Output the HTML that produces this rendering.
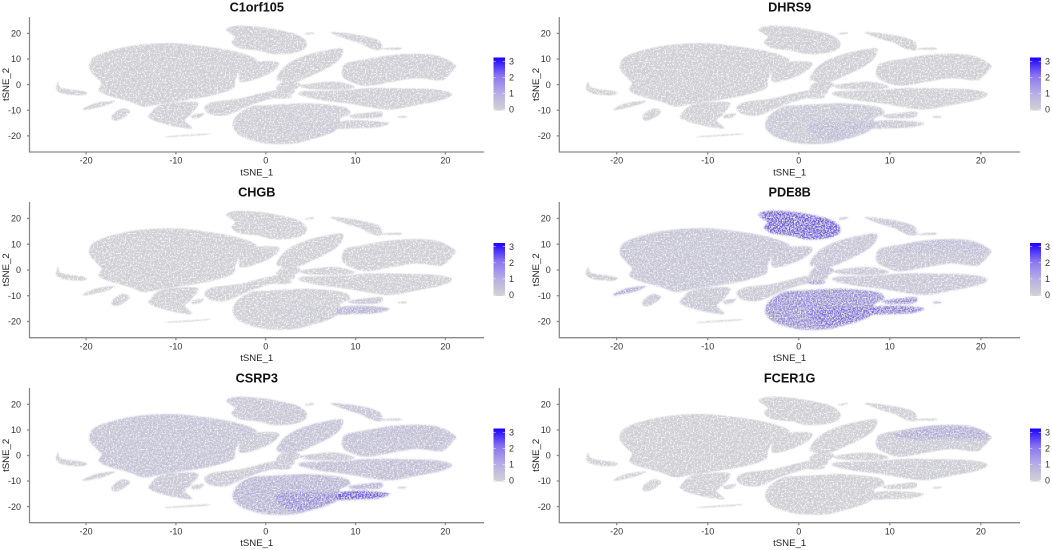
<!DOCTYPE html>
<html><head><meta charset="utf-8"><title>tSNE feature plots</title>
<style>
html,body{margin:0;padding:0;background:#fff;width:1052px;height:550px;overflow:hidden}
svg{display:block;filter:blur(.3px)}
text{font-family:"Liberation Sans",Arial,sans-serif}
</style></head>
<body>
<svg id="figure" xmlns="http://www.w3.org/2000/svg" width="1052" height="550" viewBox="0 0 1052 550">
<defs>
<filter id="greySpeckle" filterUnits="userSpaceOnUse" x="0" y="0" width="1052" height="550">
<feTurbulence type="fractalNoise" baseFrequency="0.75" numOctaves="2" seed="4" result="n"/>
<feColorMatrix in="n" type="matrix" values="0 0 0 0 0 0 0 0 0 0 0 0 0 0 0 0 0 0 7 -2.3" result="m"/>
<feGaussianBlur in="SourceGraphic" stdDeviation=".6" result="soft"/>
<feComposite in="soft" in2="m" operator="in"/>
</filter>
<filter id="blueSpeckle" filterUnits="userSpaceOnUse" x="0" y="0" width="1052" height="550">
<feTurbulence type="fractalNoise" baseFrequency="0.75" numOctaves="2" seed="11" result="n"/>
<feColorMatrix in="n" type="matrix" values="0 0 0 0 0 0 0 0 0 0 0 0 0 0 0 0 0 0 9 -4" result="m"/>
<feGaussianBlur in="SourceGraphic" stdDeviation="1.1" result="soft"/>
<feComposite in="soft" in2="m" operator="in"/>
</filter>
<linearGradient id="legendRamp" x1="0" y1="1" x2="0" y2="0">
<stop offset="0" stop-color="#d3d3d3"/><stop offset=".33" stop-color="#b6ade6"/><stop offset=".66" stop-color="#8a74ee"/><stop offset="1" stop-color="#1a00ff"/>
</linearGradient>
</defs>
</svg>
<script>
const geneNames = ['C1orf105','DHRS9','CHGB','PDE8B','CSRP3','FCER1G'];
const xTicks = [-20,-10,0,10,20];
const yTicks = [-20,-10,0,10,20];
const legendTicks = [0,1,2,3];
const xDomain = [-26.3,24.3];
const yDomain = [-26.3,26.4];

const clusterIds = ['main','main-ext','top','top-right','diagonal','right','right-upper','right-lower','mid-band','bottom','bottom-core','tail','tail-small','lower-left','centre-left','far-left','left-a','left-b','streak','dot-top','dot-low','dot-right','gap-left','centre-hub','hub-spot'];
const clusterMain = [[-19.6,8.4],[-19,11],[-17,13.6],[-14,15.6],[-10.3,16.2],[-7.3,15.2],[-4.3,13.6],[-2.1,11.6],[-1,9.4],[-2.3,7.7],[-2.9,5.1],[-3.4,1.8],[-3.6,-1.4],[-5.8,-4.1],[-8.8,-6],[-11.8,-7.6],[-13.6,-8.6],[-15.1,-6.7],[-17.7,-4.1],[-18.6,-2.1],[-18.3,.5],[-18.8,2.5],[-19.6,5.8]];
const clusterMainExt = [[-2.5,7.7],[-1,9],[1.2,9],[1.4,7.1],[.1,3.8],[-2.1,1.2],[-3,1.8]];
const clusterTop = [[-4.4,21.7],[-3.2,23],[-.6,22.5],[1.6,21.2],[3.5,19.5],[4.5,16.9],[4.4,14.2],[3.1,12.3],[.9,11.9],[-.8,13.3],[-2.9,14.2],[-3.8,16.5],[-3.4,18.6],[-4,20.1]];
const clusterTopRight = [[7.2,20.4],[9,20.1],[11.2,18.8],[12.7,16.9],[12.9,13.6],[11.8,13.9],[10.5,16.2],[9,17.8]];
const clusterDiagonal = [[1.2,2.5],[2.3,7.7],[4.6,11.6],[7.5,13.9],[8.6,13.9],[8.3,10.3],[7.2,7.1],[5.3,3.8],[3.5,1.2],[2,1.2]];
const clusterRight = [[8.5,5.8],[9,8.4],[11.2,9.9],[14.2,11.6],[17.2,12],[19.4,11],[21.1,7.7],[20.9,5.8],[20.2,3.1],[19.4,1.6],[16.8,2.5],[14.2,1.2],[11.2,-.5],[9.4,1.2],[8.6,3.1]];
const clusterRightUpper = [[10.5,8.2],[14.2,11.2],[17.2,11.7],[19.4,10.7],[20.9,7.7],[20.2,6],[17,6.6],[13,6.2]];
const clusterRightLower = [[4,-2.7],[5.7,-2.4],[9,-2.1],[11.1,-1.4],[15,-1.4],[18.7,-1.8],[20.7,-3.4],[19.8,-5.8],[16.8,-8],[13.8,-9.7],[11.2,-8.6],[9,-7.3],[6.1,-6],[3.8,-4.1]];
const clusterMidBand = [[4,-.1],[7.5,1.2],[9.8,-.5],[9,-1.8],[5.3,-1.8],[4,-1]];
const clusterBottom = [[-3.7,-15.8],[-3.2,-11.9],[-1.7,-8.6],[.1,-8],[2.3,-7.6],[4.9,-7.3],[8.6,-8.6],[9.4,-11.2],[8.3,-13.2],[8.3,-15.2],[7.5,-18.5],[5.3,-21.1],[3.1,-23],[.1,-23],[-2.1,-21.1],[-3.2,-19]];
const clusterBottomCore = [[1.2,-15.2],[3.8,-14.5],[7.5,-14.5],[8.3,-15.8],[7.5,-18.5],[5.3,-21.1],[3.1,-21.7],[1.6,-19]];
const clusterTail = [[8.3,-14.5],[10.5,-13.9],[13.7,-14.9],[12.4,-16.7],[9.8,-17.1],[7.9,-17.1]];
const clusterTailSmall = [[9.4,-11.9],[11.2,-11],[12.9,-10.6],[12.7,-12.8],[10.5,-13.2],[9.4,-12.8]];
const clusterLowerLeft = [[-13,-11.9],[-11.8,-8],[-9.2,-6.7],[-7.5,-7.3],[-8.4,-11.9],[-9,-13.9],[-8.2,-17.1],[-10.3,-16.2],[-12.1,-14.5],[-12.9,-13.2]];
const clusterCentreLeft = [[-6.8,-8.6],[-5.8,-6.7],[-2.9,-5.4],[-.6,-3.4],[1.2,-2.1],[2.7,-1.4],[3.1,-3.4],[.1,-6],[-2.1,-8.6],[-4.3,-11.9],[-5.8,-11.9],[-6.6,-10.6]];
const clusterFarLeft = [[-23.1,1.2],[-22.7,-1.2],[-20.1,-2.7],[-20.3,-4.1],[-22.2,-3.8],[-23.3,-2.1]];
const clusterLeftA = [[-20.3,-9.3],[-18.8,-7.1],[-16.8,-6.3],[-17.7,-8],[-19.2,-9.3],[-20.1,-9.9]];
const clusterLeftB = [[-17.1,-11.9],[-16,-9.3],[-15.1,-10.6],[-16.2,-13.6],[-17,-13.9]];
const clusterStreak = [[-10.8,-20.1],[-6.6,-19.1],[-6.6,-19.6],[-10.7,-20.5]];
const clusterDotTop = [[4.4,20.1],[5.3,20.5],[5.3,19.9],[4.5,19.6]];
const clusterDotLow = [[14.8,-12.3],[15.7,-12.3],[15.5,-12.9],[14.8,-12.9]];
const clusterDotRight = [[13.1,14.2],[14.9,14.5],[15,13.7],[13.2,13.7]];
const clusterGapLeft = [[-8.2,-11.9],[-6.9,-11.2],[-7.3,-12.8],[-8.1,-13.2]];
const clusterCentreHub = [[2,1.2],[3.8,.5],[3.1,-2.1],[1.2,-1.8]];
const clusterHubSpot = [[1.2,-4.6],[2.8,-4.2],[2.6,-5.3],[1.2,-5.4]];

// mean expression per cluster, same order as clusterIds
const exprC1orf105 = [.02,.02,.02,.02,.02,.02,.02,.02,.02,.04,.04,.03,.03,.02,.02,.02,.02,.02,.02,.02,.02,.02,.02,.02,.02];
const exprDHRS9 = [.01,.01,.02,.01,.01,.01,.01,.01,.01,.14,.14,.1,.08,.01,.01,.01,.01,.01,.01,.01,.01,.01,.01,.01,.01];
const exprCHGB = [.01,.01,.01,.01,.01,.01,.01,.01,.01,.02,.03,.4,.12,.01,.01,.01,.01,.01,.01,.01,.01,.01,.01,.01,.01];
const exprPDE8B = [.18,.18,1.3,.12,.18,.16,.1,.16,.1,.8,.55,1.0,.8,.14,.1,.1,.55,.15,.05,.35,.6,.1,.14,.25,.9];
const exprCSRP3 = [.2,.14,.16,.2,.22,.22,.05,.26,.1,.38,.55,1.4,.45,.16,.1,.06,.08,.08,.05,.1,.1,.1,.1,.1,.2];
const exprFCER1G = [.02,.02,.02,.02,.02,.08,.4,.05,.02,.01,.01,.01,.01,.02,.02,.02,.02,.02,.02,.02,.02,.02,.02,.02,.02];

const clusterOutlines = [clusterMain,clusterMainExt,clusterTop,clusterTopRight,clusterDiagonal,clusterRight,clusterRightUpper,clusterRightLower,clusterMidBand,clusterBottom,clusterBottomCore,clusterTail,clusterTailSmall,clusterLowerLeft,clusterCentreLeft,clusterFarLeft,clusterLeftA,clusterLeftB,clusterStreak,clusterDotTop,clusterDotLow,clusterDotRight,clusterGapLeft,clusterCentreHub,clusterHubSpot];
const geneExpr = [exprC1orf105,exprDHRS9,exprCHGB,exprPDE8B,exprCSRP3,exprFCER1G];

const NS = 'http://www.w3.org/2000/svg';
const root = document.getElementById('figure');
const columnFrames = [{left:29.5,right:484,barX:493.5,barW:11.5},{left:559.3,right:1020,barX:1030,barW:11}];
const rowFrames = [{top:17,bottom:152,barTop:57.5,barBottom:110.5},{top:202,bottom:337.7,barTop:243,barBottom:296},{top:388,bottom:522.7,barTop:428.5,barBottom:481.5}];

function mk(tag, attrs, parent){
  const el = document.createElementNS(NS, tag);
  for (const k in attrs) el.setAttribute(k, attrs[k]);
  parent.appendChild(el);
  return el;
}
function smoothPath(pts, sx, sy){
  const p = pts.map(d => [sx(d[0]), sy(d[1])]);
  const n = p.length;
  const f = v => v.toFixed(1);
  let d = 'M' + f(p[0][0]) + ' ' + f(p[0][1]);
  for (let i=0;i<n;i++){
    const a = p[(i-1+n)%n], b = p[i], c = p[(i+1)%n], e = p[(i+2)%n];
    const c1x = b[0] + (c[0]-a[0])/6, c1y = b[1] + (c[1]-a[1])/6;
    const c2x = c[0] - (e[0]-b[0])/6, c2y = c[1] - (e[1]-b[1])/6;
    d += 'C' + f(c1x) + ' ' + f(c1y) + ' ' + f(c2x) + ' ' + f(c2y) + ' ' + f(c[0]) + ' ' + f(c[1]);
  }
  return d + 'Z';
}
function label(parent, str, x, y, size, anchor, weight, fill){
  const t = mk('text', {x:x, y:y, 'font-size':size, 'text-anchor':anchor, 'font-weight':weight, fill:fill}, parent);
  t.textContent = str;
  return t;
}

geneNames.forEach((gene, gi) => {
  const col = columnFrames[gi % 2];
  const row = rowFrames[Math.floor(gi / 2)];
  const sx = v => col.left + (v - xDomain[0]) / (xDomain[1] - xDomain[0]) * (col.right - col.left);
  const sy = v => row.bottom - (v - yDomain[0]) / (yDomain[1] - yDomain[0]) * (row.bottom - row.top);
  const panel = mk('g', {}, root);
  
  

  const title = label(panel, gene, (col.left + col.right) / 2, row.top - 5.5, 12.7, 'middle', 'bold', '#111');
  
  

  const greyLayer = mk('g', {filter:'url(#greySpeckle)', fill:'#d0d0d4'}, panel);
  
  
  clusterOutlines.forEach((outline, ci) => {
    const shape = mk('path', {d:smoothPath(outline, sx, sy)}, greyLayer);
    
    
  });

  const blueLayer = mk('g', {filter:'url(#blueSpeckle)', fill:'#4a30ea'}, panel);
  
  
  clusterOutlines.forEach((outline, ci) => {
    const level = geneExpr[gi][ci];
    const shape = mk('path', {d:smoothPath(outline, sx, sy), 'fill-opacity':Math.min(1, level / 1.7).toFixed(3)}, blueLayer);
    
    
  });

  const axes = mk('g', {stroke:'#8a8a8a', 'stroke-width':1.3, fill:'none'}, panel);
  
  
  const yLine = mk('line', {x1:col.left, y1:row.top, x2:col.left, y2:row.bottom}, axes);
  
  
  const xLine = mk('line', {x1:col.left - .6, y1:row.bottom, x2:col.right, y2:row.bottom}, axes);
  
  

  xTicks.forEach(v => {
    const mark = mk('line', {x1:sx(v), x2:sx(v), y1:row.bottom, y2:row.bottom + 2.5}, axes);
    
    
    const txt = label(panel, String(v), sx(v), row.bottom + 11.7, 9, 'middle', 'normal', '#333');
    
    
  });
  yTicks.forEach(v => {
    const mark = mk('line', {x1:col.left - 2.5, x2:col.left, y1:sy(v), y2:sy(v)}, axes);
    
    
    const txt = label(panel, String(v), col.left - 8.5, sy(v) + 3.2, 9, 'end', 'normal', '#333');
    
    
  });

  const xTitle = label(panel, 'tSNE_1', (col.left + col.right) / 2, row.bottom + 23.5, 9.6, 'middle', 'normal', '#222');
  
  
  const yc = (row.top + row.bottom) / 2;
  const yTitle = label(panel, 'tSNE_2', 0, 0, 9.6, 'middle', 'normal', '#222');
  yTitle.setAttribute('transform', 'translate(' + (col.left - 20.3) + ' ' + yc + ') rotate(-90)');
  
  

  const legend = mk('g', {}, panel);
  
  
  const bar = mk('rect', {x:col.barX, y:row.barTop, width:col.barW, height:row.barBottom - row.barTop, fill:'url(#legendRamp)'}, legend);
  
  
  const ly = v => row.barBottom - 1 - (v / 3.17) * (row.barBottom - row.barTop - 2);
  legendTicks.forEach(v => {
    const tl = mk('line', {x1:col.barX, x2:col.barX + 2.3, y1:ly(v), y2:ly(v), stroke:'#fff', 'stroke-width':.5}, legend);
    
    
    const tr = mk('line', {x1:col.barX + col.barW - 2.3, x2:col.barX + col.barW, y1:ly(v), y2:ly(v), stroke:'#fff', 'stroke-width':.5}, legend);
    
    
    const t = label(legend, String(v), col.barX + col.barW + 4, ly(v) + 3.2, 9, 'start', 'normal', '#333');
    
    
  });
});
</script>
</body></html>
